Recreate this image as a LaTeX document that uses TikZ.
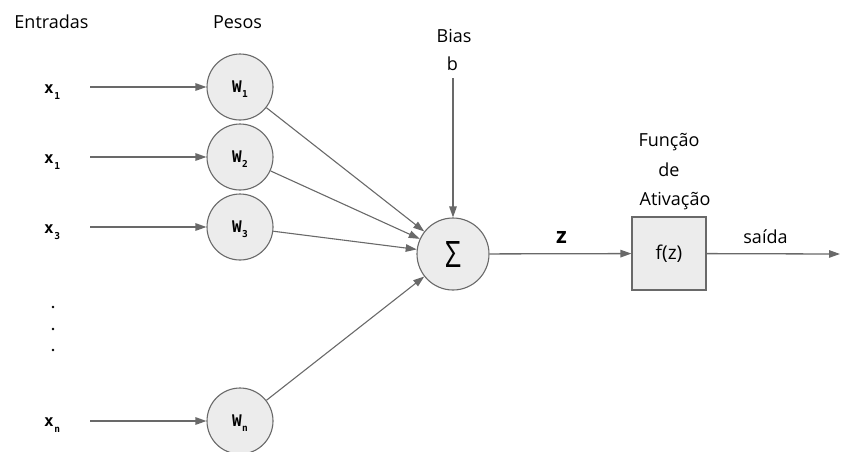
\documentclass[tikz,border=0pt]{standalone}
\usepackage{fontspec}
\setmainfont{Open Sans}
\newfontfamily\codefont{DejaVu Sans Mono}
\usetikzlibrary{arrows.meta}
\definecolor{linegray}{RGB}{105,105,105}
\definecolor{nodefill}{RGB}{236,236,236}
% symbol with a small, lowered index
\newcommand{\idx}[3]{#1\hspace{0.5pt}\raisebox{-#3}{\fontsize{9.5}{9.5}\selectfont #2}}
\begin{document}
\begin{tikzpicture}[x=1pt,y=-1pt,
  wire/.style={draw=linegray, line width=1.3pt, -{Triangle[length=11pt,width=7.5pt]}},
  link/.style={draw=linegray, line width=1.1pt, -{Triangle[length=11pt,width=7.5pt]}},
  weight/.style={circle, draw=linegray, line width=1.1pt, fill=nodefill, minimum size=66pt, inner sep=0pt, font=\codefont\bfseries\fontsize{16}{17}\selectfont},
  inputlbl/.style={anchor=base west, inner sep=0pt, font=\codefont\bfseries\fontsize{16}{17}\selectfont},
  caption/.style={anchor=base, inner sep=0pt, font=\fontsize{18}{20}\selectfont}]
  \useasboundingbox (0,0) rectangle (854,451);

  % column headings
  \node[caption] (hin) at (51.5,28) {Entradas};
  \node[caption] (hw) at (237.5,28) {Pesos};

  % inputs
  \node[inputlbl] (x1) at (44,93) {\idx{x}{1}{6pt}};
  \node[inputlbl] (x2) at (44,163) {\idx{x}{1}{6pt}};
  \node[inputlbl] (x3) at (44,233) {\idx{x}{3}{6pt}};
  \node[inputlbl] (xn) at (44,426) {\idx{x}{n}{6pt}};
  \foreach \yy in {307,329,350} \fill (53,\yy) circle (1.4pt);

  % weight nodes
  \node[weight] (w1) at (240,87) {\smash{\raisebox{-5.5pt}{\idx{W}{1}{5pt}}}};
  \node[weight] (w2) at (240,157) {\smash{\raisebox{-5.5pt}{\idx{W}{2}{5pt}}}};
  \node[weight] (w3) at (240,227) {\smash{\raisebox{-5.5pt}{\idx{W}{3}{5pt}}}};
  \node[weight] (wn) at (240,421) {\smash{\raisebox{-5.5pt}{\idx{W}{n}{5pt}}}};

  % input wires
  \coordinate (s1) at (90,87);
  \coordinate (s2) at (90,157);
  \coordinate (s3) at (90,227);
  \coordinate (sn) at (90,421);
  \draw[wire] (s1) -- (w1);
  \draw[wire] (s2) -- (w2);
  \draw[wire] (s3) -- (w3);
  \draw[wire] (sn) -- (wn);

  % summation
  \node[circle, draw=linegray, line width=1.1pt, fill=nodefill, minimum size=72pt, inner sep=0pt, font=\fontsize{28}{30}\selectfont] (sum) at (453,254) {\scalebox{1}[1.3]{Σ}};
  \draw[link] (w1) -- (sum);
  \draw[link] (w2) -- (sum);
  \draw[link] (w3) -- (sum);
  \draw[link] (wn) -- (sum);

  % bias
  \node[caption] (bias) at (454,42) {Bias};
  \node[caption] (b) at (452.5,70) {b};
  \coordinate (bt) at (453,78);
  \draw[wire] (bt) -- (sum);

  % activation
  \node[draw=linegray, line width=1.1pt, fill=nodefill, minimum width=74pt, minimum height=73pt, font=\fontsize{19}{21}\selectfont] (act) at (669,253.5) {f(z)};
  \node[caption] (f1) at (669,146) {Função};
  \node[caption] (f2) at (669,176.5) {de};
  \node[caption] (f3) at (675,205) {Ativação};
  \draw[wire] (sum) -- (act);
  \node[anchor=base, inner sep=0pt, font=\bfseries\fontsize{22}{24}\selectfont] (zl) at (561.5,243) {z};

  % output
  \coordinate (out) at (840,254);
  \draw[wire] (act) -- (out);
  \node[caption] (sl) at (765.5,243.5) {saída};
\end{tikzpicture}
\end{document}
